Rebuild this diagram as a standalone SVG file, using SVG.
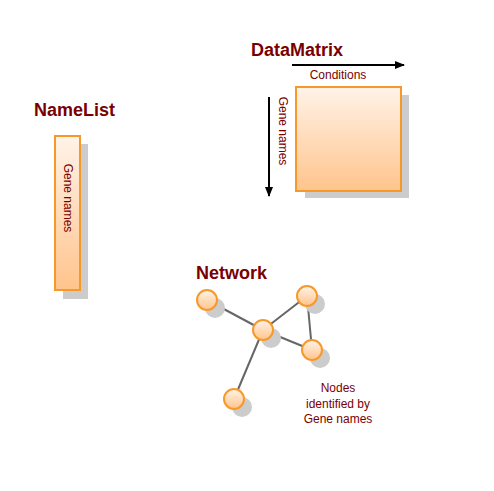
<svg xmlns="http://www.w3.org/2000/svg" width="494" height="491" viewBox="0 0 494 491">
<defs>
<linearGradient id="g" x1="0" y1="0" x2="0" y2="1"><stop offset="0" stop-color="#fff3e8"/><stop offset="1" stop-color="#ffc48c"/></linearGradient>
<marker id="ah" markerWidth="10" markerHeight="8" refX="9" refY="4" orient="auto" markerUnits="userSpaceOnUse"><path d="M0,0 L10,4 L0,8 z" fill="#000"/></marker>
<style>
.title{font-family:"Liberation Sans",Arial,sans-serif;font-weight:bold;font-size:18px;fill:#7a0000}
.lbl{font-family:"Liberation Sans",Arial,sans-serif;font-size:12px;fill:#7a0000}
.box{fill:url(#g);stroke:#f7992a;stroke-width:2}
.sh{fill:#cccccc}
.node{fill:url(#g);stroke:#f7992a;stroke-width:2}
.edge{stroke:#666;stroke-width:2;fill:none}
.arr{stroke:#000;stroke-width:2;fill:none}
</style>
</defs>
<rect width="494" height="491" fill="#fff"/>
<g id="datamatrix">
<text class="title" x="251" y="56">DataMatrix</text>
<line class="arr" x1="292" y1="65" x2="404" y2="65" marker-end="url(#ah)"/>
<text class="lbl" x="338" y="79" text-anchor="middle">Conditions</text>
<line class="arr" x1="269" y1="97" x2="269" y2="196" marker-end="url(#ah)"/>
<text class="lbl" transform="translate(279,131) rotate(90)" text-anchor="middle">Gene names</text>
<rect class="sh" x="305" y="95" width="104" height="103"/>
<rect class="box" x="296" y="87" width="105" height="104"/>
</g>
<g id="namelist">
<text class="title" x="34" y="116">NameList</text>
<rect class="sh" x="63" y="144" width="25" height="155"/>
<rect class="box" x="55" y="136" width="25" height="154"/>
<text class="lbl" transform="translate(64,198) rotate(90)" text-anchor="middle">Gene names</text>
</g>
<g id="network">
<text class="title" x="196" y="279">Network</text>
<g id="connectors">
<line class="edge" x1="207" y1="300" x2="263" y2="330"/>
<line class="edge" x1="263" y1="330" x2="307" y2="296"/>
<line class="edge" x1="263" y1="330" x2="312" y2="350"/>
<line class="edge" x1="307" y1="296" x2="312" y2="350"/>
<line class="edge" x1="263" y1="330" x2="234" y2="399"/>
</g>
<g id="n1"><circle class="sh" cx="215" cy="308" r="10"/><circle class="node" cx="207" cy="300" r="10"/></g>
<g id="n2"><circle class="sh" cx="271" cy="338" r="10"/><circle class="node" cx="263" cy="330" r="10"/></g>
<g id="n3"><circle class="sh" cx="315" cy="304" r="10"/><circle class="node" cx="307" cy="296" r="10"/></g>
<g id="n4"><circle class="sh" cx="320" cy="358" r="10"/><circle class="node" cx="312" cy="350" r="10"/></g>
<g id="n5"><circle class="sh" cx="242" cy="407" r="10"/><circle class="node" cx="234" cy="399" r="10"/></g>
<text class="lbl" text-anchor="middle"><tspan x="338" y="392">Nodes</tspan><tspan x="338" y="408">identified by</tspan><tspan x="338" y="423">Gene names</tspan></text>
</g>
</svg>
